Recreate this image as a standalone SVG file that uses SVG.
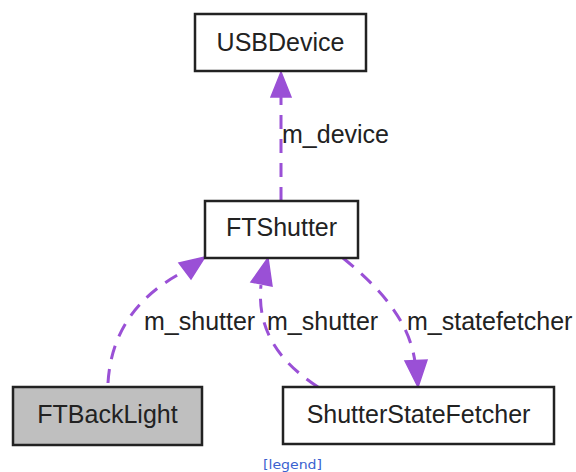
<svg xmlns="http://www.w3.org/2000/svg" width="576" height="472" viewBox="0 0 576 472">
  <style>
    .box { fill: #ffffff; stroke: #222222; stroke-width: 2.5; }
    .box.self { fill: #bfbfbf; }
    .name { font-family: "Liberation Sans", Arial, sans-serif; font-size: 25px; fill: #222222; text-anchor: middle; }
    .lbl { font-family: "Liberation Sans", Arial, sans-serif; font-size: 25px; fill: #222222; }
    .edge { fill: none; stroke: #9a50d6; stroke-width: 3; stroke-dasharray: 14 10; }
    .head { fill: #9a50d6; stroke: #9a50d6; stroke-width: 1.5; stroke-linejoin: miter; }
    .legend { font-family: "DejaVu Sans", Verdana, sans-serif; font-size: 12px; fill: #3a62d0; }
  </style>

  <rect width="576" height="472" fill="#ffffff"/>

  <!-- connectors -->
  <g id="edges">
    <!-- FTShutter -> USBDevice -->
    <g id="edge-m_device">
      <path class="edge" d="M281,201 L281,97"/>
      <polygon class="head" points="281,72 271,97 291,97"/>
      <text class="lbl" x="282" y="143">m_device</text>
    </g>
    <!-- FTBackLight -> FTShutter -->
    <g id="edge-m_shutter-backlight">
      <path class="edge" d="M108,383 C111,330 140,294 185,271"/>
      <polygon class="head" points="205,257 179,263 191,279"/>
      <text class="lbl" x="144" y="330">m_shutter</text>
    </g>
    <!-- ShutterStateFetcher -> FTShutter -->
    <g id="edge-m_shutter-fetcher">
      <path class="edge" d="M318,387 C286,366 256,336 261,285"/>
      <polygon class="head" points="268,258 251,282 272,286"/>
      <text class="lbl" x="267" y="330">m_shutter</text>
    </g>
    <!-- FTShutter -> ShutterStateFetcher -->
    <g id="edge-m_statefetcher">
      <path class="edge" d="M343,258 C376,285 409,318 415,362"/>
      <polygon class="head" points="418,387 405,361 427,360"/>
      <text class="lbl" x="407" y="330">m_statefetcher</text>
    </g>
  </g>

  <!-- nodes -->
  <g id="node-USBDevice">
    <rect class="box" x="195" y="14" width="171" height="57"/>
    <text class="name" x="280.5" y="51">USBDevice</text>
  </g>
  <g id="node-FTShutter">
    <rect class="box" x="205" y="201" width="153" height="57"/>
    <text class="name" x="281.5" y="236">FTShutter</text>
  </g>
  <g id="node-FTBackLight">
    <rect class="box self" x="13" y="387" width="189" height="58"/>
    <text class="name" x="107.5" y="423">FTBackLight</text>
  </g>
  <g id="node-ShutterStateFetcher">
    <rect class="box" x="283" y="387" width="271" height="57"/>
    <text class="name" x="418.5" y="423">ShutterStateFetcher</text>
  </g>

  <text class="legend" x="263" y="469" textLength="59" lengthAdjust="spacingAndGlyphs">[legend]</text>
</svg>
